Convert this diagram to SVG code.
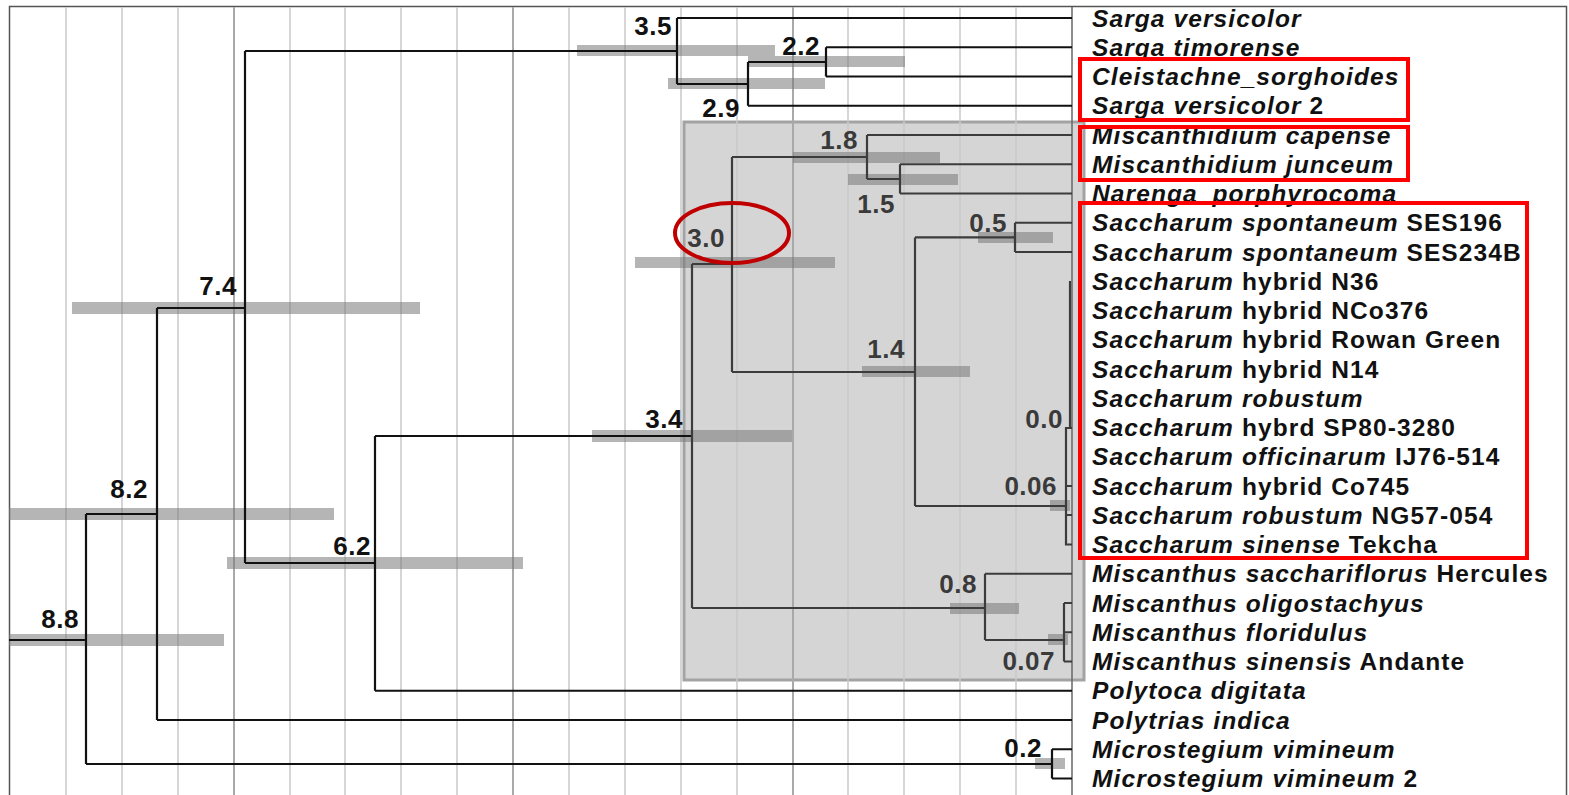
<svg xmlns="http://www.w3.org/2000/svg" width="1569" height="795" viewBox="0 0 1569 795">
<style>
.grid{stroke:#c9c9c9;stroke-width:1.5}
.gridd{stroke:#a9a9a9;stroke-width:2}
.bar{fill:rgb(120,120,120);fill-opacity:0.55}
.br{fill:none;stroke:#111;stroke-width:2.2}
.bri{fill:none;stroke:#3c3c3c;stroke-width:2.2}
.nl{font-family:"Liberation Sans",Arial,sans-serif;font-weight:bold;font-size:26px;fill:#111;text-anchor:end;letter-spacing:0.5px}
.nli{fill:#3a3a3a}
.tx{font-family:"Liberation Sans",Arial,sans-serif;font-weight:bold;font-size:24.5px;fill:#111;letter-spacing:1.1px}
.it{font-style:italic}
.redbox{fill:none;stroke:#ff0000;stroke-width:4}
</style>
<rect x="0" y="0" width="1569" height="795" fill="#fff"/>
<rect x="9.5" y="6.5" width="1557" height="800" fill="none" stroke="#555" stroke-width="1.5"/>
<rect id="clade-box" x="684" y="122" width="400" height="558" fill="#d6d5d6" stroke="#a3a3a3" stroke-width="3"/>
<g id="grid">
<line class="grid" x1="66" y1="7" x2="66" y2="795"/>
<line class="grid" x1="122" y1="7" x2="122" y2="795"/>
<line class="grid" x1="178" y1="7" x2="178" y2="795"/>
<line class="gridd" x1="234" y1="7" x2="234" y2="795"/>
<line class="grid" x1="290" y1="7" x2="290" y2="795"/>
<line class="grid" x1="345" y1="7" x2="345" y2="795"/>
<line class="grid" x1="401" y1="7" x2="401" y2="795"/>
<line class="grid" x1="457" y1="7" x2="457" y2="795"/>
<line class="gridd" x1="513" y1="7" x2="513" y2="795"/>
<line class="grid" x1="569" y1="7" x2="569" y2="795"/>
<line class="grid" x1="625" y1="7" x2="625" y2="795"/>
<line class="grid" x1="681" y1="7" x2="681" y2="795"/>
<line class="grid" x1="737" y1="7" x2="737" y2="795"/>
<line class="gridd" x1="793" y1="7" x2="793" y2="795"/>
<line class="grid" x1="848" y1="7" x2="848" y2="795"/>
<line class="grid" x1="904" y1="7" x2="904" y2="795"/>
<line class="grid" x1="960" y1="7" x2="960" y2="795"/>
<line class="grid" x1="1016" y1="7" x2="1016" y2="795"/>
<line x1="1072" y1="7" x2="1072" y2="795" stroke="#666" stroke-width="1.5"/>
</g>
<g id="node-8.8"><rect class="bar" x="9" y="634" width="215" height="12"/><text class="nl" x="79" y="628">8.8</text></g>
<g id="node-8.2"><rect class="bar" x="9" y="508" width="325" height="12"/><text class="nl" x="148" y="498">8.2</text></g>
<g id="node-7.4"><rect class="bar" x="72" y="302" width="348" height="12"/><text class="nl" x="237" y="295">7.4</text></g>
<g id="node-6.2"><rect class="bar" x="227" y="557" width="296" height="12"/><text class="nl" x="371" y="555">6.2</text></g>
<g id="node-3.5"><rect class="bar" x="577" y="45" width="198" height="11"/><text class="nl" x="672" y="35">3.5</text></g>
<g id="node-2.9"><rect class="bar" x="668" y="78" width="157" height="11"/><text class="nl" x="740" y="117">2.9</text></g>
<g id="node-2.2"><rect class="bar" x="748" y="56" width="157" height="11"/><text class="nl" x="820" y="55">2.2</text></g>
<g id="node-3.4"><rect class="bar" x="592" y="430" width="200" height="12"/><text class="nl" x="683" y="428">3.4</text></g>
<g id="node-3.0"><rect class="bar" x="635" y="257" width="200" height="11"/><text class="nl nli" x="725" y="247">3.0</text></g>
<g id="node-1.8"><rect class="bar" x="793" y="152" width="147" height="11"/><text class="nl nli" x="858" y="149">1.8</text></g>
<g id="node-1.5"><rect class="bar" x="848" y="174" width="110" height="11"/><text class="nl nli" x="895" y="213">1.5</text></g>
<g id="node-1.4"><rect class="bar" x="862" y="366" width="108" height="11"/><text class="nl nli" x="905" y="358">1.4</text></g>
<g id="node-0.5"><rect class="bar" x="978" y="232" width="75" height="11"/><text class="nl nli" x="1007" y="232">0.5</text></g>
<g id="node-0.0"><text class="nl nli" x="1063" y="428">0.0</text></g>
<g id="node-0.06"><rect class="bar" x="1050" y="500" width="20" height="11"/><text class="nl nli" x="1057" y="495">0.06</text></g>
<g id="node-0.8"><rect class="bar" x="950" y="603" width="69" height="11"/><text class="nl nli" x="977" y="593">0.8</text></g>
<g id="node-0.07"><rect class="bar" x="1048" y="634" width="20" height="11"/><text class="nl nli" x="1055" y="670">0.07</text></g>
<g id="node-0.2"><rect class="bar" x="1035" y="758" width="30" height="11"/><text class="nl" x="1042" y="757">0.2</text></g>
<g id="connectors">
<path class="br" d="M9 640H86M86 514V764M86 514H157M86 764H1052M157 308V720M157 720H1072M157 308H245M245 51V563M245 51H677M245 563H375M375 436V690.75M375 690.75H1072M375 436H692"/>
<path class="br" d="M677 18V84M677 18H1072M677 84H748M748 62V105.75M748 105.75H1072M748 62H826M826 47.25V76.5M826 47.25H1072M826 76.5H1072"/>
<path class="br" d="M1052 749.25V778.5M1052 749.25H1072M1052 778.5H1072"/>
<path class="bri" d="M692 264V608M692 264H732M732 157V372M732 157H867M867 135V179M867 135H1072M867 179H900M900 164.25V193.5M900 164.25H1072M900 193.5H1072"/>
<path class="bri" d="M732 372H915M915 237.4V506M915 237.4H1015M1015 222.75V252M1015 222.75H1072M1015 252H1072M915 506H1066"/>
<path class="bri" d="M1070 281V428M1072 428H1066V544.5H1072M1066 486H1072M1066 515H1072"/>
<path class="bri" d="M692 608H985M985 573.75V640M985 573.75H1072M985 640H1064M1064 603V661.5M1064 603H1072M1064 632.25H1072M1064 661.5H1072"/>
</g>
<ellipse id="highlight-3.0" cx="732" cy="233" rx="57" ry="30" fill="none" stroke="#c00000" stroke-width="4"/>
<g id="taxa">
<g id="t0"><text class="tx" x="1092" y="26.5"><tspan class="it">Sarga versicolor</tspan></text></g>
<g id="t1"><text class="tx" x="1092" y="55.75"><tspan class="it">Sarga timorense</tspan></text></g>
<g id="t2"><text class="tx" x="1092" y="85"><tspan class="it">Cleistachne_sorghoides</tspan></text></g>
<g id="t3"><text class="tx" x="1092" y="114.25"><tspan class="it">Sarga versicolor</tspan> 2</text></g>
<g id="t4"><text class="tx" x="1092" y="143.5"><tspan class="it">Miscanthidium capense</tspan></text></g>
<g id="t5"><text class="tx" x="1092" y="172.75"><tspan class="it">Miscanthidium junceum</tspan></text></g>
<g id="t6"><text class="tx" x="1092" y="202"><tspan class="it">Narenga_porphyrocoma</tspan></text></g>
<g id="t7"><text class="tx" x="1092" y="231.25"><tspan class="it">Saccharum spontaneum</tspan> SES196</text></g>
<g id="t8"><text class="tx" x="1092" y="260.5"><tspan class="it">Saccharum spontaneum</tspan> SES234B</text></g>
<g id="t9"><text class="tx" x="1092" y="289.75"><tspan class="it">Saccharum</tspan> hybrid N36</text></g>
<g id="t10"><text class="tx" x="1092" y="319"><tspan class="it">Saccharum</tspan> hybrid NCo376</text></g>
<g id="t11"><text class="tx" x="1092" y="348.25"><tspan class="it">Saccharum</tspan> hybrid Rowan Green</text></g>
<g id="t12"><text class="tx" x="1092" y="377.5"><tspan class="it">Saccharum</tspan> hybrid N14</text></g>
<g id="t13"><text class="tx" x="1092" y="406.75"><tspan class="it">Saccharum robustum</tspan></text></g>
<g id="t14"><text class="tx" x="1092" y="436"><tspan class="it">Saccharum</tspan> hybrd SP80-3280</text></g>
<g id="t15"><text class="tx" x="1092" y="465.25"><tspan class="it">Saccharum officinarum</tspan> IJ76-514</text></g>
<g id="t16"><text class="tx" x="1092" y="494.5"><tspan class="it">Saccharum</tspan> hybrid Co745</text></g>
<g id="t17"><text class="tx" x="1092" y="523.75"><tspan class="it">Saccharum robustum</tspan> NG57-054</text></g>
<g id="t18"><text class="tx" x="1092" y="553"><tspan class="it">Saccharum sinense</tspan> Tekcha</text></g>
<g id="t19"><text class="tx" x="1092" y="582.25"><tspan class="it">Miscanthus sacchariflorus</tspan> Hercules</text></g>
<g id="t20"><text class="tx" x="1092" y="611.5"><tspan class="it">Miscanthus oligostachyus</tspan></text></g>
<g id="t21"><text class="tx" x="1092" y="640.75"><tspan class="it">Miscanthus floridulus</tspan></text></g>
<g id="t22"><text class="tx" x="1092" y="670"><tspan class="it">Miscanthus sinensis</tspan> Andante</text></g>
<g id="t23"><text class="tx" x="1092" y="699.25"><tspan class="it">Polytoca digitata</tspan></text></g>
<g id="t24"><text class="tx" x="1092" y="728.5"><tspan class="it">Polytrias indica</tspan></text></g>
<g id="t25"><text class="tx" x="1092" y="757.75"><tspan class="it">Microstegium vimineum</tspan></text></g>
<g id="t26"><text class="tx" x="1092" y="787"><tspan class="it">Microstegium vimineum</tspan> 2</text></g>
</g>
<g id="highlights">
<rect class="redbox" x="1080" y="59" width="328" height="61"/>
<rect class="redbox" x="1080" y="127" width="328" height="53"/>
<rect class="redbox" x="1080" y="203" width="447" height="355"/>
</g>
</svg>
